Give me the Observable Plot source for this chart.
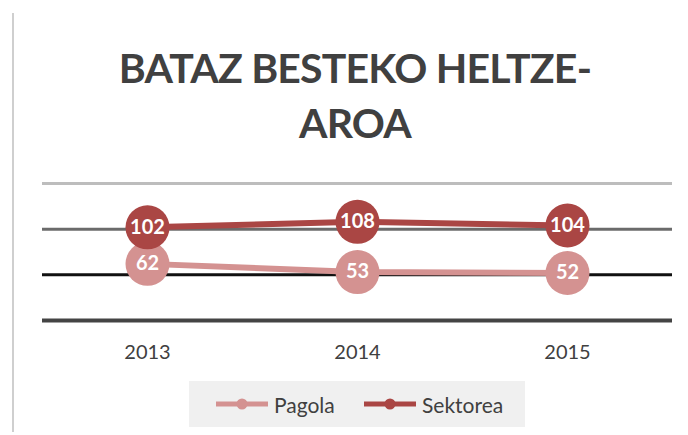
<!DOCTYPE html>
<html>
<head>
<meta charset="utf-8">
<script src="https://cdn.jsdelivr.net/npm/d3@7"></script>
<script src="https://cdn.jsdelivr.net/npm/@observablehq/plot@0.6"></script>
<style>
  html, body { margin: 0; padding: 0; background: #fff; }
  #wrap { position: relative; width: 688px; height: 435px; overflow: hidden; font-family: Lato, "Open Sans", sans-serif; }
  #vline { position: absolute; left: 12px; top: 13px; width: 2px; height: 419px; background: #cfcfcf; }
  #title { position: absolute; left: 20px; width: 670px; top: 40px; text-align: center; font-weight: 700; font-size: 41px; line-height: 55px; color: #404040; letter-spacing: -0.8px; }
  #chart { position: absolute; left: 0; top: 160px; }
  #legend { position: absolute; left: 189px; top: 381px; width: 336px; height: 46px; background: #f0f0f0; }
  .item { position: absolute; top: 0; height: 46px; display: flex; align-items: center; font-size: 21px; color: #404040; }
  .item svg { margin-right: 6px; }
</style>
</head>
<body>
<div id="wrap">
  <div id="vline"></div>
  <div id="title">BATAZ BESTEKO HELTZE-<br>AROA</div>
  <div id="chart"></div>
  <div id="legend"></div>
</div>
<script>
const years = ["2013", "2014", "2015"];
const pagola = [62, 53, 52];
const sektorea = [102, 108, 104];
const seriesNames = ["Pagola", "Sektorea"];
const gridValues = [0, 50, 100, 150];

const colors = { Pagola: "#d49291", Sektorea: "#aa4644" };

const data = [
  ...years.map((y, i) => ({ year: y, value: pagola[i], series: "Pagola" })),
  ...years.map((y, i) => ({ year: y, value: sektorea[i], series: "Sektorea" }))
];
const pData = data.filter(d => d.series === "Pagola");
const sData = data.filter(d => d.series === "Sektorea");

const plot = Plot.plot({
  width: 688,
  height: 215,
  marginTop: 23,
  marginBottom: 55,
  marginLeft: 42,
  marginRight: 16,
  style: { fontFamily: "Lato, 'Open Sans', sans-serif", background: "transparent" },
  x: { type: "point", domain: years, padding: 0.5, label: null },
  y: { domain: [0, 150], label: null, axis: null },
  marks: [
    Plot.ruleY([gridValues[3]], { stroke: "#bdbdbd", strokeWidth: 3 }),
    Plot.ruleY([gridValues[2]], { stroke: "#6b6b6b", strokeWidth: 3 }),
    Plot.ruleY([gridValues[1]], { stroke: "#111111", strokeWidth: 3 }),
    Plot.ruleY([gridValues[0]], { stroke: "#444444", strokeWidth: 4 }),
    Plot.axisX({ tickSize: 0, tickPadding: 24, fontSize: 20, fill: "#404040", label: null }),
    Plot.line(pData, { x: "year", y: "value", stroke: colors.Pagola, strokeWidth: 6 }),
    Plot.dot(pData, { x: "year", y: "value", r: 22, fill: colors.Pagola }),
    Plot.text(pData, { x: "year", y: "value", text: d => String(d.value), fill: "white", fontSize: 20, fontWeight: 700 }),
    Plot.line(sData, { x: "year", y: "value", stroke: colors.Sektorea, strokeWidth: 6 }),
    Plot.dot(sData, { x: "year", y: "value", r: 22, fill: colors.Sektorea }),
    Plot.text(sData, { x: "year", y: "value", text: d => String(d.value), fill: "white", fontSize: 20, fontWeight: 700 })
  ]
});
document.getElementById("chart").appendChild(plot);

const legend = document.getElementById("legend");
const lefts = [27, 175];
seriesNames.forEach((name, i) => {
  const item = document.createElement("div");
  item.className = "item";
  item.style.left = lefts[i] + "px";
  item.innerHTML = `<svg width="52" height="14"><line x1="0" y1="7" x2="52" y2="7" stroke="${colors[name]}" stroke-width="5"/><circle cx="26" cy="7" r="5.5" fill="${colors[name]}"/></svg><span>${name}</span>`;
  legend.appendChild(item);
});
</script>
</body>
</html>
